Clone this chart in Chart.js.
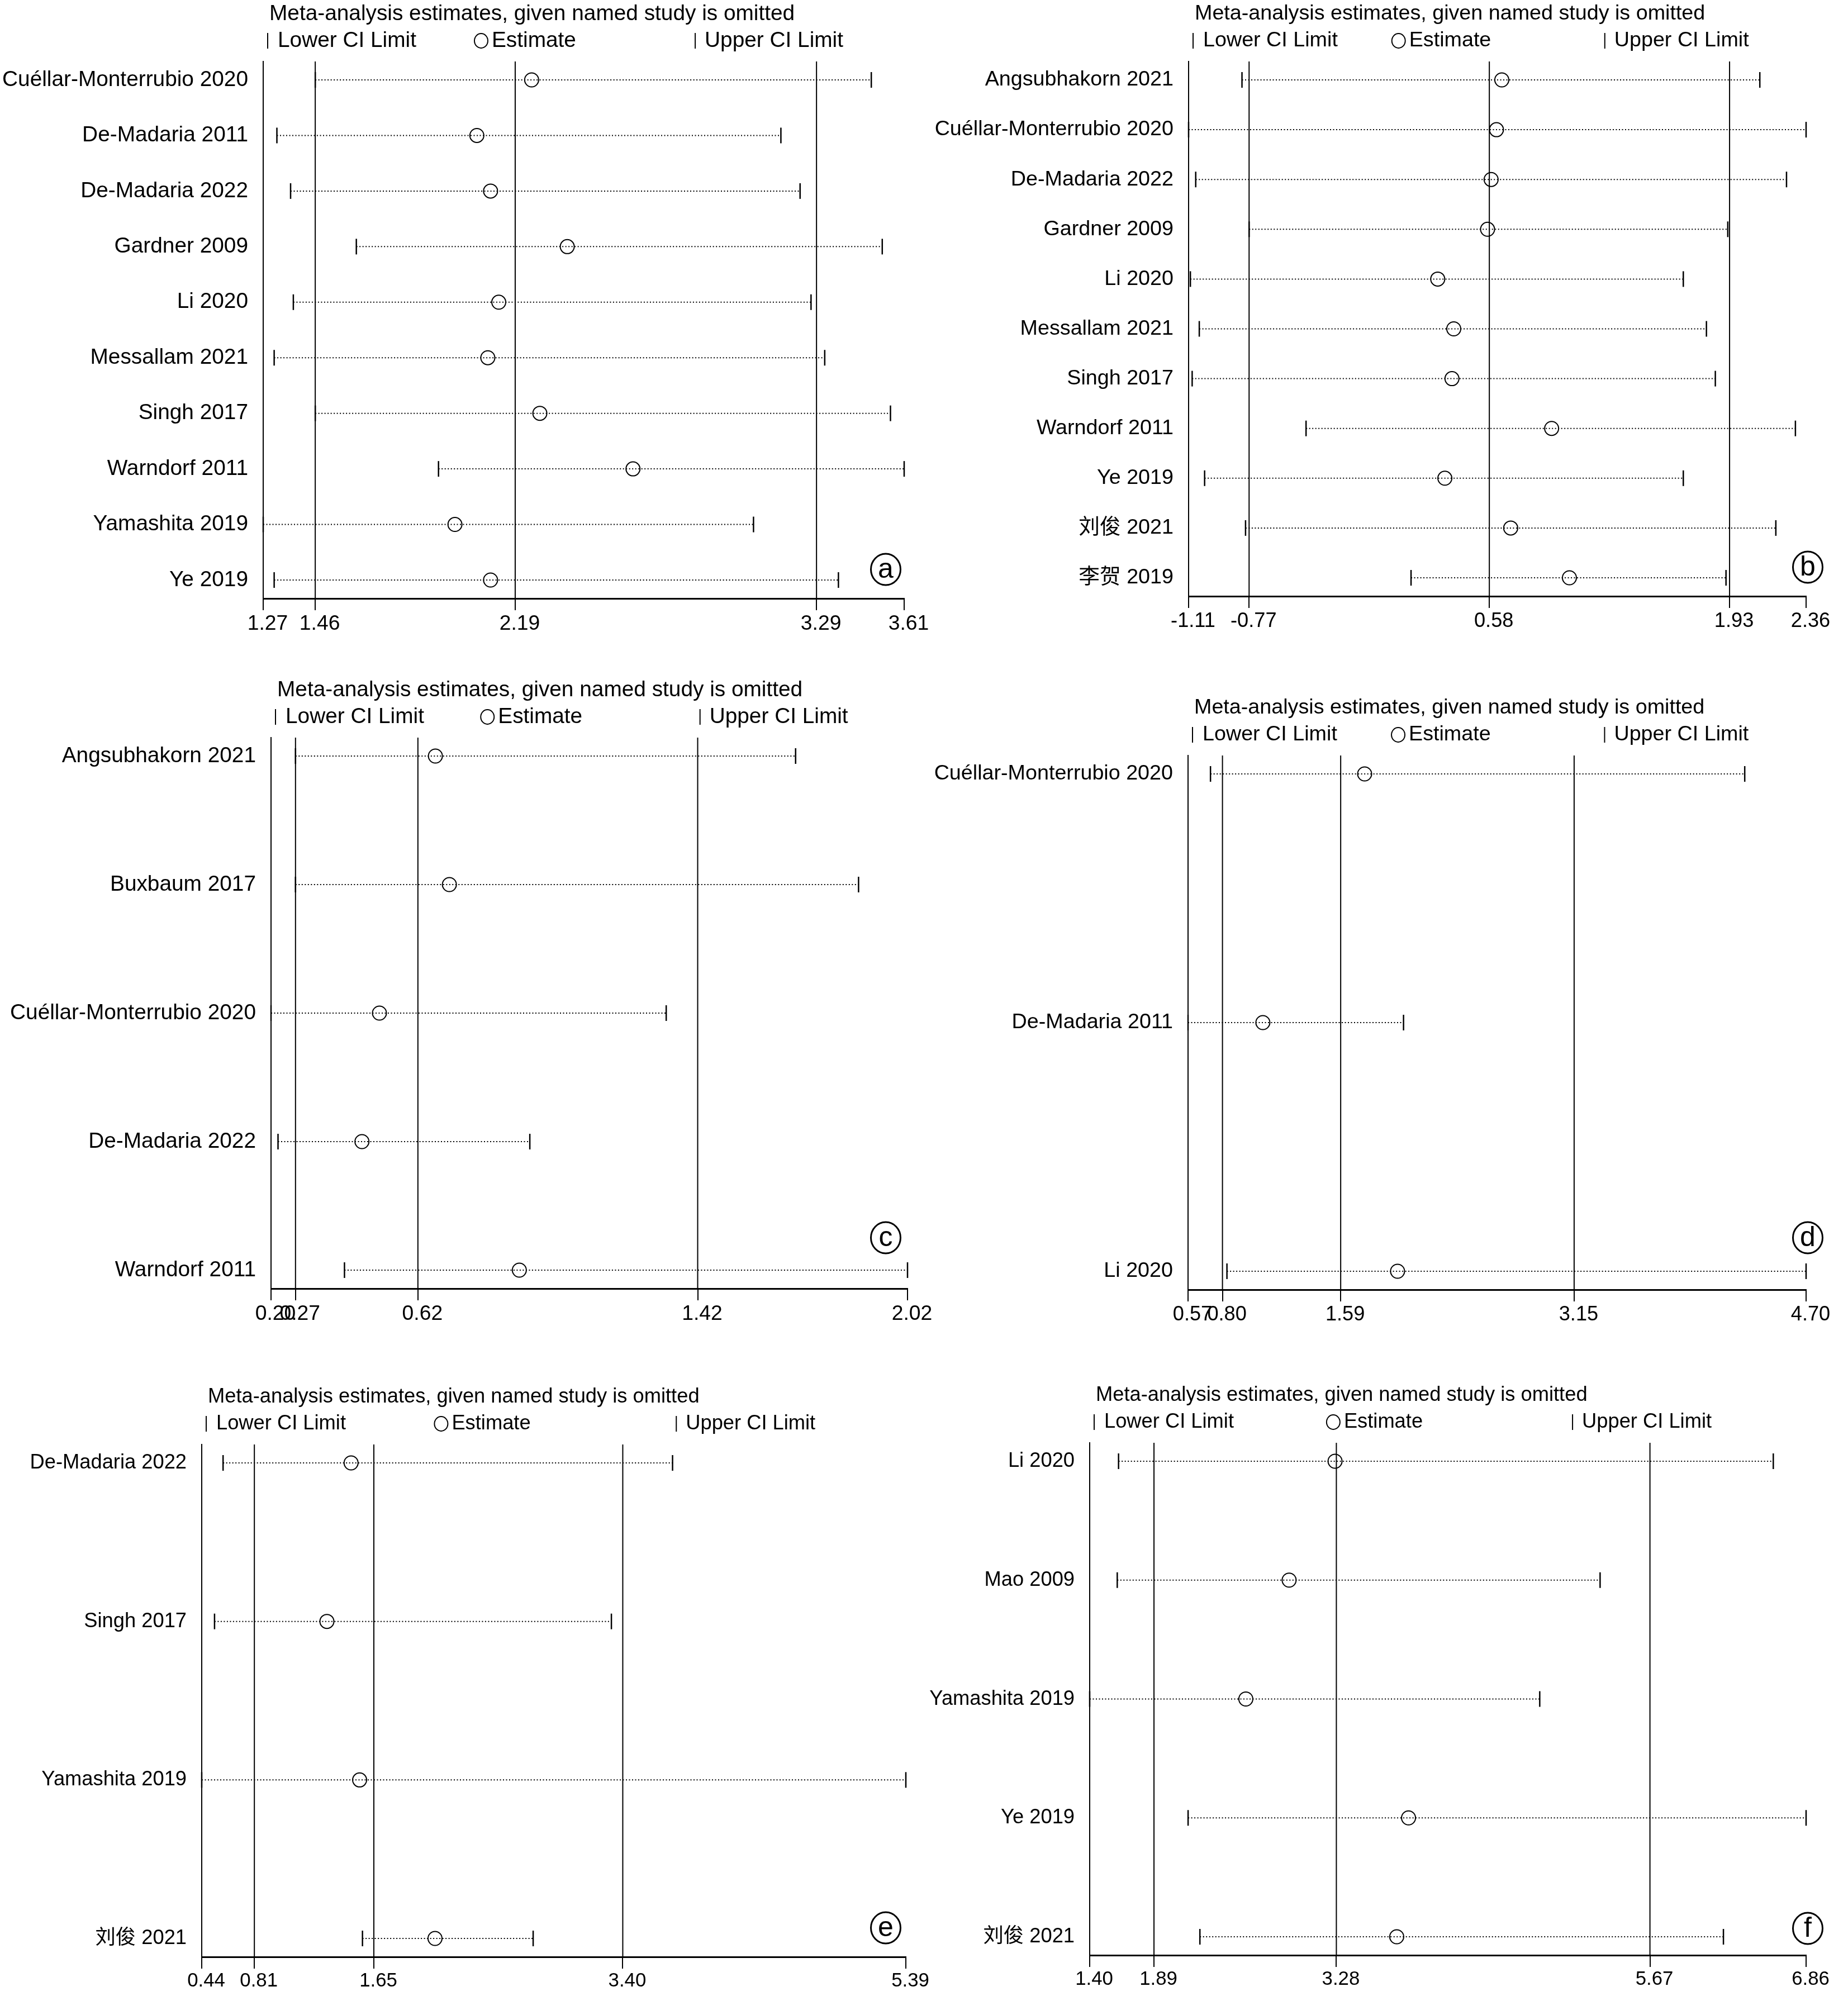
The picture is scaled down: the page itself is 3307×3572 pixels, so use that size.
<!DOCTYPE html>
<html>
<head>
<meta charset="utf-8">
<title>Leave-one-out sensitivity analysis</title>
<script src="https://cdn.jsdelivr.net/npm/chart.js@4.4.1/dist/chart.umd.min.js"></script>
<style>
  html, body { margin: 0; padding: 0; background: #fff; }
  #page { position: relative; width: 3307px; height: 3572px; overflow: hidden; background: #fff; }
  canvas { position: absolute; }
</style>
</head>
<body>
<div id="page">
  <canvas id="panelA"></canvas>
  <canvas id="panelB"></canvas>
  <canvas id="panelC"></canvas>
  <canvas id="panelD"></canvas>
  <canvas id="panelE"></canvas>
  <canvas id="panelF"></canvas>
</div>
<script>
const FONT = "'Liberation Sans', Arial, 'Noto Sans CJK SC', sans-serif";

// --- (a) ---
const studiesA = ['Cuéllar-Monterrubio 2020', 'De-Madaria 2011', 'De-Madaria 2022', 'Gardner 2009', 'Li 2020',
                  'Messallam 2021', 'Singh 2017', 'Warndorf 2011', 'Yamashita 2019', 'Ye 2019'];
const lowerA = [1.46, 1.32, 1.37, 1.61, 1.38, 1.31, 1.46, 1.91, 1.27, 1.31];
const estA   = [2.25, 2.05, 2.10, 2.38, 2.13, 2.09, 2.28, 2.62, 1.97, 2.10];
const upperA = [3.49, 3.16, 3.23, 3.53, 3.27, 3.32, 3.56, 3.61, 3.06, 3.37];
const ticksA = [1.27, 1.46, 2.19, 3.29, 3.61];   // min, pooled lower, pooled, pooled upper, max

// --- (b) ---
const studiesB = ['Angsubhakorn 2021', 'Cuéllar-Monterrubio 2020', 'De-Madaria 2022', 'Gardner 2009', 'Li 2020',
                  'Messallam 2021', 'Singh 2017', 'Warndorf 2011', 'Ye 2019', '刘俊 2021', '李贺 2019'];
const lowerB = [-0.81, -1.11, -1.07, -0.77, -1.10, -1.05, -1.09, -0.45, -1.02, -0.79, 0.14];
const estB   = [0.65, 0.62, 0.59, 0.57, 0.29, 0.38, 0.37, 0.93, 0.33, 0.70, 1.03];
const upperB = [2.10, 2.36, 2.25, 1.92, 1.67, 1.80, 1.85, 2.30, 1.67, 2.19, 1.91];
const ticksB = [-1.11, -0.77, 0.58, 1.93, 2.36];

// --- (c) ---
const studiesC = ['Angsubhakorn 2021', 'Buxbaum 2017', 'Cuéllar-Monterrubio 2020', 'De-Madaria 2022', 'Warndorf 2011'];
const lowerC = [0.27, 0.27, 0.20, 0.22, 0.41];
const estC   = [0.67, 0.71, 0.51, 0.46, 0.91];
const upperC = [1.70, 1.88, 1.33, 0.94, 2.02];
const ticksC = [0.20, 0.27, 0.62, 1.42, 2.02];

// --- (d) ---
const studiesD = ['Cuéllar-Monterrubio 2020', 'De-Madaria 2011', 'Li 2020'];
const lowerD = [0.72, 0.57, 0.83];
const estD   = [1.75, 1.07, 1.97];
const upperD = [4.29, 2.01, 4.70];
const ticksD = [0.57, 0.80, 1.59, 3.15, 4.70];

// --- (e) ---
const studiesE = ['De-Madaria 2022', 'Singh 2017', 'Yamashita 2019', '刘俊 2021'];
const lowerE = [0.59, 0.53, 0.44, 1.57];
const estE   = [1.49, 1.32, 1.55, 2.08];
const upperE = [3.75, 3.32, 5.39, 2.77];
const ticksE = [0.44, 0.81, 1.65, 3.40, 5.39];

// --- (f) ---
const studiesF = ['Li 2020', 'Mao 2009', 'Yamashita 2019', 'Ye 2019', '刘俊 2021'];
const lowerF = [1.62, 1.61, 1.40, 2.15, 2.24];
const estF   = [3.27, 2.92, 2.59, 3.83, 3.74];
const upperF = [6.61, 5.29, 4.83, 6.86, 6.23];
const ticksF = [1.40, 1.89, 3.28, 5.67, 6.86];

// canvas = [left, top, width, height], plot = [left, top, right, bottom] in page pixels
// mark = offset of the circled letter from the plot's bottom-right corner
// fs = text size of the panel (the six were exported at slightly different scales)
const panels = [
  { id: 'panelA', letter: 'a', studies: studiesA, lower: lowerA, est: estA, upper: upperA, ticks: ticksA,
    canvas: [0, 0, 1700, 1190], plot: [471, 110, 1618, 1071], mark: [-33, -52], fs: 38.8 },
  { id: 'panelB', letter: 'b', studies: studiesB, lower: lowerB, est: estB, upper: upperB, ticks: ticksB,
    canvas: [1654, 0, 1653, 1190], plot: [2127, 110, 3232, 1067], mark: [3, -52], fs: 37.7 },
  { id: 'panelC', letter: 'c', studies: studiesC, lower: lowerC, est: estC, upper: upperC, ticks: ticksC,
    canvas: [0, 1190, 1700, 1250], plot: [485, 1320, 1624, 2306], mark: [-39, -91], fs: 38.8 },
  { id: 'panelD', letter: 'd', studies: studiesD, lower: lowerD, est: estD, upper: upperD, ticks: ticksD,
    canvas: [1654, 1190, 1653, 1250], plot: [2126, 1352, 3232, 2308], mark: [3, -93], fs: 37.7 },
  { id: 'panelE', letter: 'e', studies: studiesE, lower: lowerE, est: estE, upper: upperE, ticks: ticksE,
    canvas: [0, 2440, 1700, 1132], plot: [361, 2585, 1621, 3502], mark: [-36, -52], fs: 36.3 },
  { id: 'panelF', letter: 'f', studies: studiesF, lower: lowerF, est: estF, upper: upperF, ticks: ticksF,
    canvas: [1654, 2440, 1653, 1132], plot: [1950, 2582, 3232, 3499], mark: [3, -48], fs: 36.3 }
];

const EDGE = 33; // px between first/last row and the plot border

Chart.defaults.font.family = FONT;
Chart.defaults.color = '#000';

// title, key and circled panel letter
const panelDecor = {
  id: 'panelDecor',
  afterDraw(chart, args, opts) {
    const { ctx, chartArea: { left, top, right, bottom } } = chart;
    const w = right - left;
    const ly = top - 37;
    const bar = (x) => {
      ctx.beginPath(); ctx.moveTo(x, ly - 14); ctx.lineTo(x, ly + 14); ctx.stroke();
    };
    ctx.save();
    ctx.fillStyle = '#000';
    ctx.strokeStyle = '#000';
    ctx.lineWidth = 2;
    ctx.font = opts.fs + 'px ' + FONT;
    ctx.textAlign = 'left';
    ctx.textBaseline = 'middle';
    ctx.fillText('Meta-analysis estimates, given named study is omitted', left + 11, top - 85);

    bar(left + 8);
    ctx.fillText('Lower CI Limit', left + 26, ly);
    ctx.beginPath();
    ctx.ellipse(left + 0.34 * w, ly, 12, 13, 0, 0, 2 * Math.PI);
    ctx.stroke();
    ctx.fillText('Estimate', left + 0.34 * w + 19, ly);
    bar(left + 0.674 * w);
    ctx.fillText('Upper CI Limit', left + 0.674 * w + 17, ly);

    const cx = right + opts.dx, cy = bottom + opts.dy;
    ctx.lineWidth = 3;
    ctx.beginPath();
    ctx.ellipse(cx, cy, 26.5, 28, 0, 0, 2 * Math.PI);
    ctx.stroke();
    ctx.font = '50px ' + FONT;
    ctx.textAlign = 'center';
    ctx.textBaseline = 'alphabetic';
    ctx.fillText(opts.letter, cx, cy + 15);
    ctx.restore();
  }
};

function buildPanel(p) {
  const [cx, cy, cw, ch] = p.canvas;
  const [pl, pt, pr, pb] = p.plot;
  const canvas = document.getElementById(p.id);
  canvas.width = cw;
  canvas.height = ch;
  canvas.style.left = cx + 'px';
  canvas.style.top = cy + 'px';
  canvas.style.width = cw + 'px';
  canvas.style.height = ch + 'px';

  const n = p.studies.length;
  const pad = EDGE / ((pb - pt - 2 * EDGE) / (n - 1));
  const yMin = -pad, yMax = n - 1 + pad;

  const datasets = [];
  // estimates (drawn on top)
  datasets.push({
    label: 'Estimate',
    data: p.est.map((v, i) => ({ x: v, y: i })),
    showLine: false,
    pointStyle: 'circle', pointRadius: 12.5, pointBorderWidth: 2,
    pointBorderColor: '#000', pointBackgroundColor: 'rgba(0,0,0,0)',
    clip: false, order: 0
  });
  // one dotted CI line per omitted study, with end caps
  p.studies.forEach((s, i) => {
    datasets.push({
      label: s,
      data: [{ x: p.lower[i], y: i }, { x: p.upper[i], y: i }],
      borderColor: '#000', borderWidth: 2, borderDash: [2, 3.5],
      pointStyle: 'line', pointRotation: 90, pointRadius: 14, pointBorderWidth: 2.5,
      pointBorderColor: '#000',
      clip: false, order: 1
    });
  });
  // pooled lower / estimate / upper as full-height lines
  p.ticks.slice(1, 4).forEach(v => {
    datasets.push({
      data: [{ x: v, y: yMin }, { x: v, y: yMax }],
      borderColor: '#000', borderWidth: 2, pointRadius: 0, order: 2
    });
  });

  new Chart(canvas, {
    type: 'line',
    data: { datasets: datasets },
    options: {
      responsive: false,
      animation: false,
      events: [],
      layout: { autoPadding: false, padding: { top: pt - cy, right: cx + cw - pr, left: 0, bottom: 0 } },
      scales: {
        x: {
          type: 'linear', min: p.ticks[0], max: p.ticks[p.ticks.length - 1],
          afterBuildTicks: s => { s.ticks = p.ticks.map(v => ({ value: v })); },
          afterFit: s => { s.height = cy + ch - pb; },
          grid: { drawOnChartArea: false, drawTicks: true, tickLength: 21, color: '#000', lineWidth: 2 },
          border: { display: true, color: '#000', width: 3 },
          ticks: { autoSkip: false, maxRotation: 0, padding: 2, labelOffset: 8, color: '#000',
                   font: { size: p.fs - 1.5 },
                   callback: v => Number(v).toFixed(2) }
        },
        y: {
          type: 'linear', reverse: true, min: yMin, max: yMax,
          afterBuildTicks: s => { s.ticks = p.studies.map((_, i) => ({ value: i })); },
          afterFit: s => { s.width = pl - cx; },
          grid: { drawOnChartArea: false, drawTicks: false },
          border: { display: true, color: '#000', width: 2 },
          ticks: { autoSkip: false, padding: 27, color: '#000', font: { size: p.fs },
                   callback: v => p.studies[v] }
        }
      },
      plugins: {
        legend: { display: false },
        tooltip: { enabled: false },
        panelDecor: { letter: p.letter, dx: p.mark[0], dy: p.mark[1], fs: p.fs }
      }
    },
    plugins: [panelDecor]
  });
}

panels.forEach(buildPanel);
</script>
</body>
</html>
